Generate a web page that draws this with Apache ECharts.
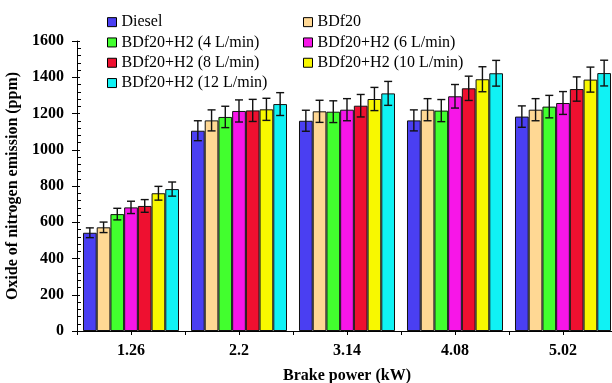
<!DOCTYPE html>
<html>
<head>
<meta charset="utf-8">
<script src="https://cdn.jsdelivr.net/npm/echarts@6/dist/echarts.min.js"></script>
<style>html,body{margin:0;padding:0;background:#fff}#c{width:612px;height:383px}</style>
</head>
<body>
<div id="c"></div>
<script>
const categories = ['1.26', '2.2', '3.14', '4.08', '5.02'];
const seriesNames = ['Diesel', 'BDf20', 'BDf20+H2 (4 L/min)', 'BDf20+H2 (6 L/min)', 'BDf20+H2 (8 L/min)', 'BDf20+H2 (10 L/min)', 'BDf20+H2 (12 L/min)'];
const colors = ['#4A3FF2', '#FFD894', '#42FF2E', '#F716E8', '#EE1030', '#F8F800', '#10F2F4'];

const diesel = [542, 1105, 1160, 1162, 1183];
const bdf20 = [572, 1162, 1212, 1221, 1221];
const h2_4 = [645, 1181, 1210, 1216, 1238];
const h2_6 = [682, 1214, 1221, 1295, 1258];
const h2_8 = [690, 1217, 1243, 1339, 1335];
const h2_10 = [760, 1223, 1280, 1389, 1387];
const h2_12 = [783, 1252, 1311, 1422, 1423];

const errDiesel = [27, 55, 58, 58, 59];
const errBdf20 = [29, 58, 61, 61, 61];
const errH2_4 = [32, 59, 60, 61, 62];
const errH2_6 = [34, 61, 61, 65, 63];
const errH2_8 = [35, 61, 62, 67, 67];
const errH2_10 = [38, 61, 64, 69, 69];
const errH2_12 = [39, 63, 66, 71, 71];

const yTicks = [0, 200, 400, 600, 800, 1000, 1200, 1400, 1600];

const values = [diesel, bdf20, h2_4, h2_6, h2_8, h2_10, h2_12];
const errors = [errDiesel, errBdf20, errH2_4, errH2_6, errH2_8, errH2_10, errH2_12];

const FONT = '"Liberation Serif", "Times New Roman", serif';
const GAP = 0.111;
const NS = seriesNames.length;

const series = [];
values.forEach((vals, si) => {
  series.push({
    name: seriesNames[si], type: 'bar', xAxisIndex: 0, yAxisIndex: 0,
    data: vals, barGap: '0%', barCategoryGap: (GAP * 100) + '%',
    itemStyle: {color: colors[si], borderColor: '#111', borderWidth: 1},
    emphasis: {disabled: true}, z: 2
  });
});
values.forEach((vals, si) => {
  series.push({
    name: 'err' + si, type: 'custom', xAxisIndex: 0, yAxisIndex: 0, z: 5,
    data: vals.map((v, i) => [i, v, errors[si][i]]),
    encode: {x: 0, y: 1},
    renderItem: function (params, api) {
      const ci = api.value(0), v = api.value(1), e = api.value(2);
      const c = api.coord([ci, v]);
      const band = api.size([1, 0])[0];
      const bw = band * (1 - GAP) / NS;
      const x = c[0] - band * (1 - GAP) / 2 + (si + 0.5) * bw;
      const yh = api.coord([ci, v + e])[1];
      const yl = api.coord([ci, v - e])[1];
      const cap = 4;
      const st = {stroke: '#111', lineWidth: 1.4};
      return {type: 'group', children: [
        {type: 'line', shape: {x1: x, y1: yh, x2: x, y2: yl}, style: st},
        {type: 'line', shape: {x1: x - cap, y1: yh, x2: x + cap, y2: yh}, style: st},
        {type: 'line', shape: {x1: x - cap, y1: yl, x2: x + cap, y2: yl}, style: st}
      ]};
    }
  });
});

const legendCommon = {
  orient: 'vertical', icon: 'rect', itemWidth: 9, itemHeight: 9, itemGap: 0, padding: 0,
  textStyle: {fontFamily: FONT, fontSize: 16, color: '#000', lineHeight: 20.3},
  itemStyle: {borderColor: '#000', borderWidth: 1},
  selectedMode: false
};

const option = {
  animation: false,
  color: colors,
  grid: {left: 77, top: 41, bottom: 52, width: 540, containLabel: false, outerBoundsMode: 'none'},
  legend: [
    Object.assign({}, legendCommon, {left: 107, top: 12, data: [seriesNames[0], seriesNames[2], seriesNames[4], seriesNames[6]]}),
    Object.assign({}, legendCommon, {left: 303, top: 12, data: [seriesNames[1], seriesNames[3], seriesNames[5]]})
  ],
  xAxis: [
    {type: 'category', data: categories, position: 'bottom',
     axisLine: {lineStyle: {color: '#000', width: 1}},
     axisTick: {show: true, length: 4, lineStyle: {color: '#000'}},
     axisLabel: {fontFamily: FONT, fontSize: 16, fontWeight: 'bold', color: '#000', margin: 12},
     name: 'Brake power (kW)', nameLocation: 'middle', nameGap: 37,
     nameTextStyle: {fontFamily: FONT, fontSize: 16, fontWeight: 'bold', color: '#000'}},
    {type: 'category', data: categories, position: 'bottom',
     axisLine: {show: false},
     axisTick: {show: true, alignWithLabel: true, length: 4, lineStyle: {color: '#000'}},
     axisLabel: {show: false}}
  ],
  yAxis: [
    {type: 'value', min: yTicks[0], max: yTicks[yTicks.length - 1], interval: 200, position: 'left',
     axisLine: {show: true, lineStyle: {color: '#000', width: 1}},
     axisTick: {show: true, length: 5, lineStyle: {color: '#000'}},
     splitLine: {show: false},
     axisLabel: {fontFamily: FONT, fontSize: 16, fontWeight: 'bold', color: '#000', margin: 13,
       formatter: v => yTicks.indexOf(v) >= 0 ? String(v) : ''},
     name: 'Oxide of nitrogen emission (ppm)', nameLocation: 'middle', nameGap: 52,
     nameTextStyle: {fontFamily: FONT, fontSize: 16, fontWeight: 'bold', color: '#000'}},
    {type: 'value', min: yTicks[0], max: yTicks[yTicks.length - 1], interval: 200, position: 'left',
     axisLine: {show: false},
     axisTick: {show: true, inside: true, length: 3, lineStyle: {color: '#000'}},
     minorTick: {show: true, splitNumber: 5, length: 4, lineStyle: {color: '#000'}},
     splitLine: {show: false}, axisLabel: {show: false}}
  ],
  series: series
};

const chart = echarts.init(document.getElementById('c'), null, {renderer: 'canvas'});
chart.setOption(option);
</script>
</body>
</html>
